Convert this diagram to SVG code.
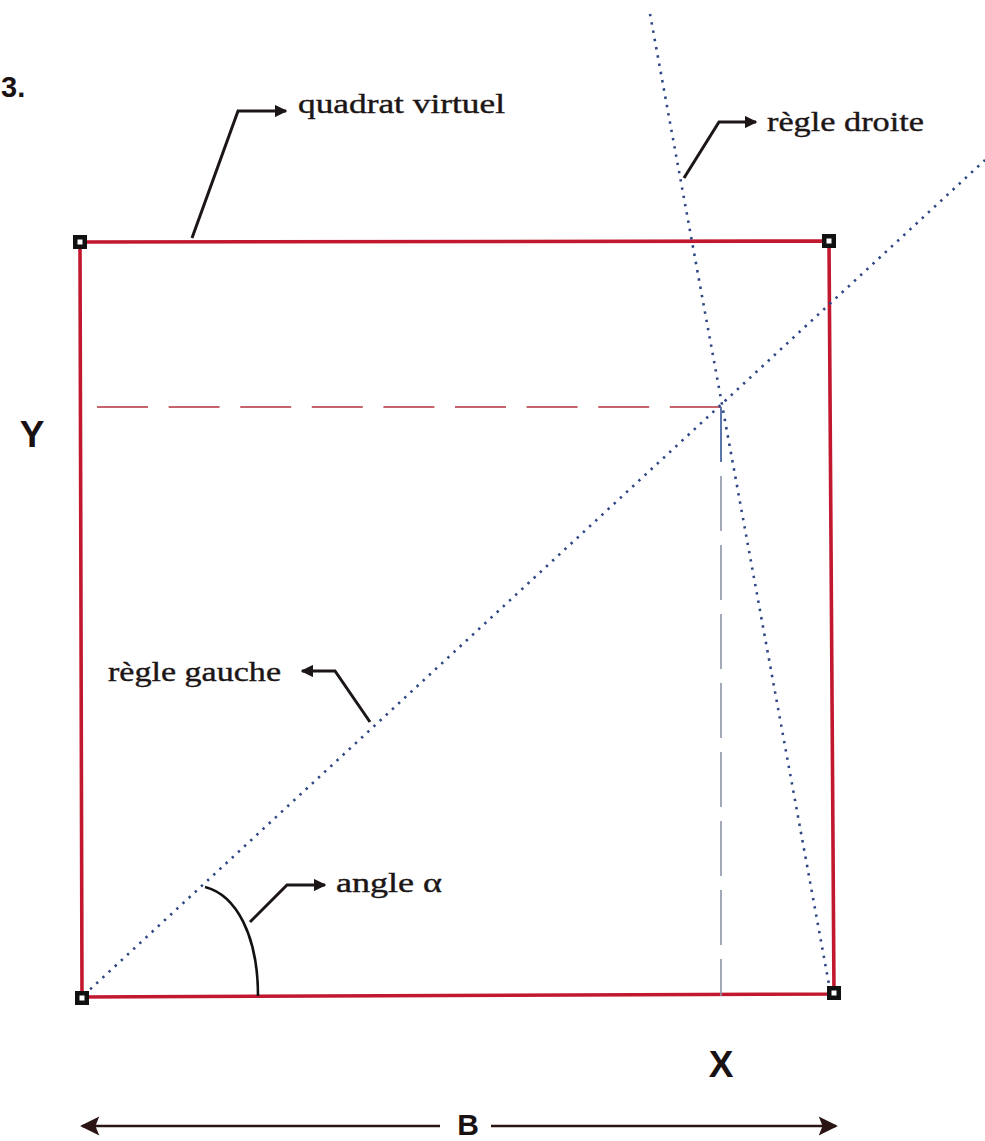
<svg xmlns="http://www.w3.org/2000/svg" width="985" height="1141" viewBox="0 0 985 1141">
<style>
.lbl{font-family:"Liberation Serif",serif;font-size:28px;fill:#1c1616;stroke:#1c1616;stroke-width:0.4}
.big{font-family:"Liberation Sans",Arial,sans-serif;font-weight:bold;fill:#1a1212}
.lead{fill:none;stroke:#1c1616;stroke-width:3;stroke-linejoin:miter}
.rule{fill:none;stroke:#2d4785;stroke-width:2.6;stroke-dasharray:2.4 6}
.red{fill:none;stroke:#c1182f;stroke-width:3.6}
.mk{fill:#111}
.mki{fill:#fff}
</style>
<defs>
<marker id="ah" viewBox="0 0 10 10" refX="9" refY="5" markerWidth="4.2" markerHeight="4.2" markerUnits="strokeWidth" orient="auto">
<path d="M0,0 L10,5 L0,10 z" fill="#1c1616"/>
</marker>
<marker id="bh" viewBox="0 0 10 10" refX="9" refY="5" markerWidth="10" markerHeight="8" markerUnits="strokeWidth" orient="auto-start-reverse">
<path d="M0,0 L10,5 L0,10 L2,5 z" fill="#2a1414"/>
</marker>
</defs>
<rect width="985" height="1141" fill="#fff"/>

<g id="square">
<polygon class="red" points="80,242 829,241 834,994 82,997"/>
</g>

<g id="construction">
<line x1="97" y1="407" x2="721" y2="407" stroke="#b2323e" stroke-width="1.6" stroke-dasharray="51 20.6"/>
<line x1="721" y1="407" x2="721" y2="996" stroke="#8a94a8" stroke-width="1.6" stroke-dasharray="55 14"/>
<line x1="721" y1="407" x2="721" y2="462" stroke="#4a6aa8" stroke-width="1.6"/>
</g>

<g id="rule-left">
<line class="rule" x1="84" y1="995" x2="985" y2="160"/>
</g>
<g id="rule-right">
<line class="rule" x1="650" y1="14" x2="830" y2="990"/>
</g>

<g id="corners">
<rect class="mk" x="73" y="235" width="14" height="14"/><rect class="mki" x="77.5" y="239.5" width="5" height="5"/>
<rect class="mk" x="822" y="234" width="14" height="14"/><rect class="mki" x="826.5" y="238.5" width="5" height="5"/>
<rect class="mk" x="75" y="991" width="14" height="14"/><rect class="mki" x="79.5" y="995.5" width="5" height="5"/>
<rect class="mk" x="827" y="986" width="14" height="14"/><rect class="mki" x="831.5" y="990.5" width="5" height="5"/>
</g>

<g id="angle-arc">
<path d="M205,887 C236,895 258,935 258,996" fill="none" stroke="#111" stroke-width="2.6"/>
</g>

<g id="connectors">
<polyline class="lead" points="192,238 238,111 286,111" marker-end="url(#ah)"/>
<polyline class="lead" points="684,178 719,122 756,122" marker-end="url(#ah)"/>
<polyline class="lead" points="370,722 335,671 302,671" marker-end="url(#ah)"/>
<polyline class="lead" points="250,922 287,885 325,885" marker-end="url(#ah)"/>
<line x1="82" y1="1126" x2="440" y2="1126" stroke="#2a1414" stroke-width="2.4" marker-start="url(#bh)"/>
<line x1="491" y1="1126" x2="836" y2="1126" stroke="#2a1414" stroke-width="2.4" marker-end="url(#bh)"/>
</g>

<g id="labels">
<text class="big" x="1" y="97" font-size="29">3.</text>
<text class="lbl" x="298" y="113" textLength="207" lengthAdjust="spacingAndGlyphs">quadrat virtuel</text>
<text class="lbl" x="767" y="131" textLength="157" lengthAdjust="spacingAndGlyphs">règle droite</text>
<text class="lbl" x="108" y="681" textLength="173" lengthAdjust="spacingAndGlyphs">règle gauche</text>
<text class="lbl" x="336" y="892" textLength="106" lengthAdjust="spacingAndGlyphs">angle α</text>
<text class="big" x="32" y="447" font-size="37" text-anchor="middle">Y</text>
<text class="big" x="721" y="1077" font-size="37" text-anchor="middle">X</text>
<text class="big" x="468" y="1135" font-size="30" text-anchor="middle">B</text>
</g>
</svg>
